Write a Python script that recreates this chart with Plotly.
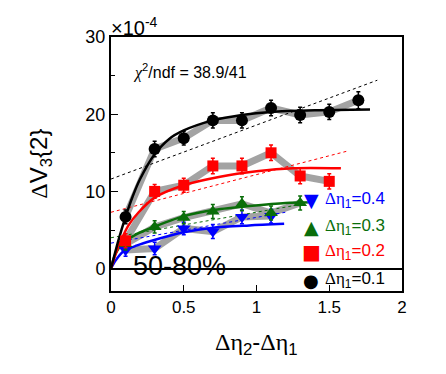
import plotly.graph_objects as go

# ---------------- data ----------------
x_black = [0.1, 0.3, 0.5, 0.7, 0.9, 1.1, 1.3, 1.5, 1.7]
y_black = [6.7, 15.5, 16.9, 19.2, 19.2, 20.8, 19.9, 20.3, 21.8]
e_black = [0.9, 1.0, 0.9, 1.0, 1.0, 1.0, 1.0, 1.0, 1.1]

x_red = [0.1, 0.3, 0.5, 0.7, 0.9, 1.1, 1.3, 1.5]
y_red = [3.6, 10.0, 10.8, 13.3, 13.3, 15.0, 12.0, 11.3]
e_red = [0.9, 0.9, 0.9, 1.0, 1.0, 1.0, 1.0, 1.0]

x_green = [0.1, 0.3, 0.5, 0.7, 0.9, 1.1, 1.3]
y_green = [3.2, 5.4, 6.6, 7.4, 8.4, 7.2, 8.5]
e_green = [0.8, 0.8, 0.8, 0.9, 0.9, 0.9, 0.9]

x_blue = [0.1, 0.3, 0.5, 0.7, 0.9, 1.1]
y_blue = [2.4, 2.6, 5.2, 4.8, 6.7, 6.8]
e_blue = [0.8, 0.8, 0.8, 0.9, 0.9, 0.9]

# fit curves
fx_black = [0.0, 0.05, 0.1, 0.15, 0.2, 0.3, 0.4, 0.5, 0.7, 0.9, 1.1, 1.4, 1.78]
fy_black = [0.0, 3.6, 6.7, 9.4, 11.6, 14.8, 16.8, 17.9, 19.2, 19.9, 20.3, 20.5, 20.6]
fx_red = [0.0, 0.03, 0.07, 0.12, 0.19, 0.3, 0.5, 0.75, 1.0, 1.25, 1.58]
fy_red = [0.0, 1.8, 3.7, 5.6, 7.3, 9.2, 10.8, 11.9, 12.6, 13.0, 13.0]
fx_green = [0.0, 0.03, 0.09, 0.18, 0.28, 0.5, 0.7, 0.95, 1.2, 1.38]
fy_green = [0.0, 1.9, 3.4, 4.5, 5.3, 6.8, 7.6, 8.1, 8.5, 8.6]
fx_blue = [0.0, 0.03, 0.09, 0.18, 0.28, 0.5, 0.7, 0.95, 1.19]
fy_blue = [0.0, 1.0, 2.3, 3.0, 3.6, 4.7, 5.3, 5.6, 5.8]

# dashed linear guides
dx_black = [0.0, 1.83]
dy_black = [11.6, 24.4]
dx_red = [0.0, 1.62]
dy_red = [7.3, 15.2]
dx_green = [0.0, 1.3]
dy_green = [4.0, 8.3]
dx_blue = [0.0, 1.2]
dy_blue = [3.3, 7.3]

legend_labels = ["0.4", "0.3", "0.2", "0.1"]

BLACK = "#000000"
RED = "#ff0000"
GREEN = "#0a6e0a"
BLUE = "#0000ff"
GRAY = "#a3a3a3"

fig = go.Figure()

series = [
    (x_blue, y_blue, e_blue, BLUE, "triangle-down", 12),
    (x_green, y_green, e_green, GREEN, "triangle-up", 12),
    (x_red, y_red, e_red, RED, "square", 11),
    (x_black, y_black, e_black, BLACK, "circle", 12),
]
fits = [
    (fx_blue, fy_blue, BLUE), (fx_green, fy_green, GREEN),
    (fx_red, fy_red, RED), (fx_black, fy_black, BLACK),
]
dashes = [
    (dx_blue, dy_blue, BLUE), (dx_green, dy_green, GREEN),
    (dx_red, dy_red, RED), (dx_black, dy_black, BLACK),
]

# gray bands
for xs, ys, es, c, sym, sz in series:
    fig.add_trace(go.Scatter(x=xs, y=ys, mode="lines",
                             line=dict(color=GRAY, width=7), hoverinfo="skip"))
# dashed lines
for xs, ys, c in dashes:
    fig.add_trace(go.Scatter(x=xs, y=ys, mode="lines",
                             line=dict(color=c, width=1, dash="3px,3px")))
# fits
for xs, ys, c in fits:
    fig.add_trace(go.Scatter(x=xs, y=ys, mode="lines",
                             line=dict(color=c, width=2.5, shape="spline", smoothing=0.8)))
# markers
for xs, ys, es, c, sym, sz in series:
    fig.add_trace(go.Scatter(
        x=xs, y=ys, mode="markers",
        marker=dict(symbol=sym, size=sz, color=c, line=dict(width=0)),
        error_y=dict(type="data", array=es, color=c, thickness=1.5, width=2),
    ))

font_main = "Liberation Sans, Arial, sans-serif"
serif = "Liberation Serif"

ann = []
ann.append(dict(x=0, y=1, xref="paper", yref="paper", xanchor="left", yanchor="bottom",
                text="×10<sup>-4</sup>", showarrow=False, font=dict(size=20, color="black"),
                yshift=-4, xshift=-2))
ann.append(dict(x=0.14, y=25.5, xref="x", yref="y", xanchor="left", yanchor="middle",
                text=f"<span style='font-family:{serif}'><i>χ</i></span><sup>2</sup>/ndf = 38.9/41",
                showarrow=False, font=dict(size=16, color="black")))
ann.append(dict(x=0.14, y=0.3, xref="x", yref="y", xanchor="left", yanchor="middle",
                text="50-80%", showarrow=False, font=dict(size=27, color="black")))

leg_y = [8.9, 5.4, 2.1, -1.5]
leg_sym = ["▼", "▲", "■", "●"]
leg_size = [19, 19, 20, 18]
leg_col = [BLUE, GREEN, RED, BLACK]
for lab, yy, sy, ss, col in zip(legend_labels, leg_y, leg_sym, leg_size, leg_col):
    ann.append(dict(x=1.375, y=yy, xref="x", yref="y", xanchor="center", yanchor="middle",
                    text=sy, showarrow=False, font=dict(size=ss, color=col,
                                                        family="DejaVu Sans")))
    ann.append(dict(x=1.455, y=yy, xref="x", yref="y", xanchor="left", yanchor="middle",
                    text=f"<span style='font-family:{serif}'>Δη</span><sub>1</sub>={lab}",
                    showarrow=False, font=dict(size=17, color=col)))

# axis titles
ann.append(dict(x=0.5, y=-0.205, xref="paper", yref="paper", xanchor="center", yanchor="middle",
                text=f"<span style='font-family:{serif}'>Δη</span><sub>2</sub>-<span style='font-family:{serif}'>Δη</span><sub>1</sub>",
                showarrow=False, font=dict(size=24, color="black")))
ann.append(dict(x=-0.245, y=0.5, xref="paper", yref="paper", xanchor="center", yanchor="middle",
                textangle=-90,
                text=f"<span style='font-family:{serif}'>Δ</span>V<sub>3</sub>{{2}}",
                showarrow=False, font=dict(size=24, color="black")))

# page body has an 8px default margin: shrink figure and margins accordingly
fig.update_layout(
    width=438, height=366,
    margin=dict(l=103, r=44, t=29, b=83),
    paper_bgcolor="white", plot_bgcolor="white",
    showlegend=False,
    font=dict(family=font_main, size=16, color="black"),
    annotations=ann,
    xaxis=dict(range=[0, 2], showgrid=False, zeroline=False,
               showline=True, linecolor="black", linewidth=2, mirror=True,
               ticks="inside", ticklen=6, tickwidth=1, tickcolor="black",
               tickvals=[0, 0.5, 1, 1.5, 2], ticktext=["0", "0.5", "1", "1.5", "2"],
               tickfont=dict(size=17)),
    yaxis=dict(range=[-2.9, 30], showgrid=False, zeroline=True, zerolinecolor="black",
               zerolinewidth=1.5,
               showline=True, linecolor="black", linewidth=2, mirror=True,
               ticks="inside", ticklen=7, tickwidth=1, tickcolor="black",
               tickvals=[0, 10, 20, 30], tickfont=dict(size=18),
               minor=dict(tickvals=[5, 15, 25], ticks="inside", ticklen=4, tickcolor="black")),
)

fig.write_html("out.html")
